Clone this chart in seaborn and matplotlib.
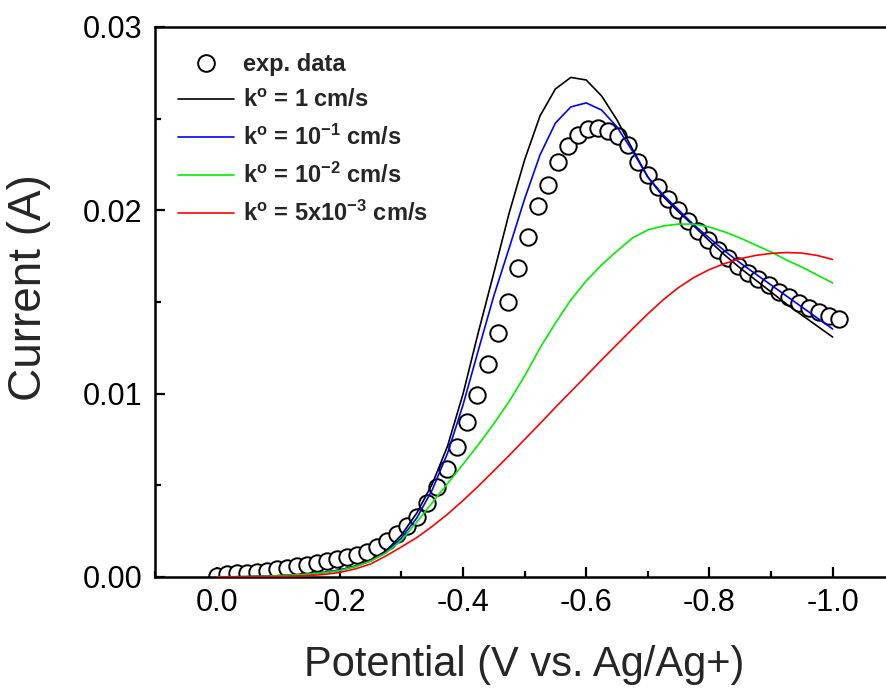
import matplotlib
matplotlib.use("Agg")
import matplotlib.pyplot as plt
from matplotlib.lines import Line2D
from matplotlib.ticker import MultipleLocator, FixedLocator
import seaborn as sns
import pandas as pd

# ---------------- data ----------------
exp_potential = [0.0000, -0.0163, -0.0326, -0.0489, -0.0652, -0.0815, -0.0977, -0.1140,
                 -0.1303, -0.1466, -0.1629, -0.1792, -0.1955, -0.2118, -0.2281, -0.2444,
                 -0.2606, -0.2769, -0.2932, -0.3095, -0.3258, -0.3421, -0.3584, -0.3747,
                 -0.3910, -0.4073, -0.4235, -0.4398, -0.4561, -0.4724, -0.4887, -0.5050,
                 -0.5213, -0.5376, -0.5539, -0.5702, -0.5864, -0.6027, -0.6190, -0.6353,
                 -0.6516, -0.6679, -0.6842, -0.7005, -0.7168, -0.7331, -0.7493, -0.7656,
                 -0.7819, -0.7982, -0.8145, -0.8308, -0.8471, -0.8634, -0.8797, -0.8960,
                 -0.9122, -0.9285, -0.9448, -0.9611, -0.9774, -0.9937, -1.0100]
exp_current = [0.00005, 0.00016, 0.00022, 0.00022, 0.00027, 0.00033, 0.00044, 0.00049,
               0.00060, 0.00065, 0.00076, 0.00085, 0.00098, 0.00109, 0.00120, 0.00136,
               0.00166, 0.00196, 0.00235, 0.00278, 0.00327, 0.00404, 0.00491, 0.00589,
               0.00709, 0.00845, 0.00993, 0.01162, 0.01331, 0.01500, 0.01686, 0.01855,
               0.02024, 0.02138, 0.02264, 0.02351, 0.02411, 0.02444, 0.02449, 0.02433,
               0.02405, 0.02356, 0.02264, 0.02193, 0.02127, 0.02062, 0.02002, 0.01942,
               0.01887, 0.01838, 0.01786, 0.01740, 0.01696, 0.01658, 0.01623, 0.01590,
               0.01557, 0.01525, 0.01497, 0.01470, 0.01445, 0.01421, 0.01405]

sim_potential = [0.000, -0.025, -0.050, -0.075, -0.100, -0.125, -0.150, -0.175, -0.200,
                 -0.225, -0.250, -0.275, -0.300, -0.325, -0.350, -0.375, -0.400, -0.425,
                 -0.450, -0.475, -0.500, -0.525, -0.550, -0.575, -0.600, -0.625, -0.650,
                 -0.675, -0.700, -0.725, -0.750, -0.775, -0.800, -0.825, -0.850, -0.875,
                 -0.900, -0.925, -0.950, -0.975, -1.000]
k_1 = [0.00000, 0.00001, 0.00002, 0.00004, 0.00007, 0.00011, 0.00016, 0.00025, 0.00038,
       0.00060, 0.00093, 0.00142, 0.00229, 0.00349, 0.00507, 0.00715, 0.00998, 0.01336,
       0.01658, 0.01986, 0.02275, 0.02515, 0.02662, 0.02725, 0.02711, 0.02624, 0.02493,
       0.02335, 0.02182, 0.02075, 0.01991, 0.01914, 0.01833, 0.01756, 0.01685, 0.01620,
       0.01555, 0.01489, 0.01429, 0.01369, 0.01309]
k_01 = [0.00000, 0.00001, 0.00002, 0.00004, 0.00007, 0.00011, 0.00016, 0.00025, 0.00038,
        0.00057, 0.00087, 0.00136, 0.00213, 0.00322, 0.00475, 0.00676, 0.00938, 0.01238,
        0.01533, 0.01795, 0.02062, 0.02302, 0.02476, 0.02564, 0.02586, 0.02547, 0.02455,
        0.02324, 0.02182, 0.02084, 0.02002, 0.01920, 0.01849, 0.01778, 0.01713, 0.01653,
        0.01593, 0.01533, 0.01473, 0.01413, 0.01353]
k_001 = [0.00000, 0.00001, 0.00002, 0.00004, 0.00007, 0.00011, 0.00016, 0.00024, 0.00035,
         0.00057, 0.00087, 0.00131, 0.00200, 0.00300, 0.00405, 0.00510, 0.00615, 0.00722,
         0.00836, 0.00958, 0.01096, 0.01249, 0.01385, 0.01511, 0.01615, 0.01702, 0.01778,
         0.01849, 0.01893, 0.01915, 0.01925, 0.01925, 0.01909, 0.01882, 0.01849, 0.01811,
         0.01773, 0.01729, 0.01691, 0.01647, 0.01604]
k_0005 = [0.00000, 0.00001, 0.00001, 0.00002, 0.00003, 0.00005, 0.00008, 0.00014, 0.00025,
          0.00044, 0.00071, 0.00115, 0.00164, 0.00215, 0.00276, 0.00343, 0.00417, 0.00496,
          0.00579, 0.00663, 0.00750, 0.00837, 0.00925, 0.01011, 0.01097, 0.01184, 0.01269,
          0.01353, 0.01435, 0.01512, 0.01579, 0.01634, 0.01677, 0.01710, 0.01736, 0.01754,
          0.01765, 0.01770, 0.01767, 0.01754, 0.01732]

series_labels = [r"$\mathbf{k^{o}}$ = 1 cm/s",
                 r"$\mathbf{k^{o}}$ = 10$\mathbf{^{-1}}$ cm/s",
                 r"$\mathbf{k^{o}}$ = 10$\mathbf{^{-2}}$ cm/s",
                 r"$\mathbf{k^{o}}$ = 5x10$\mathbf{^{-3}}$ cm/s"]
series_colors = ["#000000", "#0000ff", "#00ee00", "#ff0000"]
x_ticks = [0.0, -0.2, -0.4, -0.6, -0.8, -1.0]
x_ticklabels = ["0.0", "-0.2", "-0.4", "-0.6", "-0.8", "-1.0"]
y_ticks = [0.00, 0.01, 0.02, 0.03]
y_ticklabels = ["0.00", "0.01", "0.02", "0.03"]

# ---------------- style ----------------
sns.set_theme(style="ticks")
plt.rcParams["font.family"] = ["Liberation Sans", "DejaVu Sans"]
plt.rcParams["mathtext.fontset"] = "custom"
plt.rcParams["mathtext.rm"] = "Liberation Sans"
plt.rcParams["mathtext.it"] = "Liberation Sans"
plt.rcParams["mathtext.bf"] = "Liberation Sans:bold"
plt.rcParams["axes.unicode_minus"] = False

fig = plt.figure(figsize=(8.86, 6.93), dpi=100)
ax = fig.add_axes([155 / 886, 116 / 693, 739.2 / 886, 550 / 693])

exp_df = pd.DataFrame({"E": exp_potential, "I": exp_current})
sim_df = pd.concat([
    pd.DataFrame({"E": sim_potential, "I": vals, "k": lab})
    for vals, lab in zip([k_1, k_01, k_001, k_0005], series_labels)
])

sns.scatterplot(data=exp_df, x="E", y="I", ax=ax, marker="o", s=140,
                facecolor="white", edgecolor="black", linewidth=1.4,
                zorder=2, legend=False)
sns.lineplot(data=sim_df, x="E", y="I", hue="k", hue_order=series_labels,
             palette=series_colors, ax=ax, linewidth=1.2, sort=False,
             estimator=None, zorder=3, legend=False)

ax.set_xlim(0.1, -1.1)
ax.set_ylim(0.0, 0.03)
ax.xaxis.set_major_locator(FixedLocator(x_ticks))
ax.set_xticklabels(x_ticklabels)
ax.xaxis.set_minor_locator(MultipleLocator(0.1))
ax.yaxis.set_major_locator(FixedLocator(y_ticks))
ax.set_yticklabels(y_ticklabels)
ax.yaxis.set_minor_locator(MultipleLocator(0.005))

ax.tick_params(which="both", direction="in", width=1.6, colors="black",
               top=False, right=False, labelsize=22)
ax.tick_params(axis="x", pad=8)
ax.tick_params(axis="y", pad=9)
ax.tick_params(which="major", length=7)
ax.tick_params(which="minor", length=4)
for sp in ax.spines.values():
    sp.set_visible(True)
    sp.set_linewidth(1.8)
    sp.set_color("black")

ax.set_xlabel("Potential (V vs. Ag/Ag+)", fontsize=30)
ax.set_ylabel("Current (A)", fontsize=33)
ax.xaxis.set_label_coords(0.5, -0.124)
ax.yaxis.set_label_coords(-0.141, 0.527)

handles = [Line2D([], [], marker="o", linestyle="none", markersize=12,
                  markerfacecolor="white", markeredgecolor="black", markeredgewidth=1.4)]
for c in series_colors:
    handles.append(Line2D([], [], color=c, linewidth=1.2))
leg = ax.legend(handles, ["exp. data"] + series_labels, loc="upper left",
                bbox_to_anchor=(0.018, 0.970), frameon=False,
                prop={"weight": "bold", "size": 17}, handlelength=2.37,
                handletextpad=0.38, labelspacing=0.545, borderaxespad=0.0)

fig.savefig("out.png", dpi=100)
